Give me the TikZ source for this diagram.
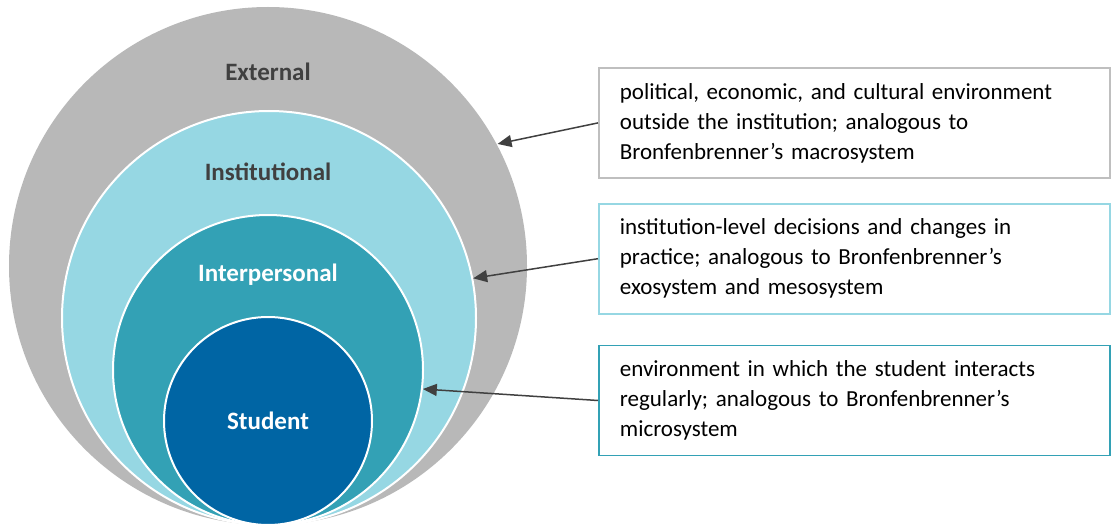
\documentclass[tikz,border=0pt]{standalone}
\usepackage{fontspec}
\setmainfont{Carlito}
\usetikzlibrary{arrows.meta, positioning}

\definecolor{extgray}{HTML}{B8B8B8}
\definecolor{instblue}{HTML}{96D7E3}
\definecolor{interteal}{HTML}{33A1B5}
\definecolor{studblue}{HTML}{0065A4}
\definecolor{labelgray}{HTML}{404040}
\definecolor{boxgray}{HTML}{BFBFBF}

\tikzstyle{ring} = [circle, inner sep=0pt, draw=white, line width=2pt]
\tikzstyle{level} = [font=\fontsize{25}{29}\selectfont\bfseries]
\tikzstyle{note} = [draw, rectangle, line width=1.8pt, fill=white, minimum width=511pt, minimum height=110pt, inner xsep=21pt, text width=469pt, align=left, font=\fontsize{23}{30}\selectfont]

\begin{document}
\begin{tikzpicture}[x=1pt, y=-1pt, >={Triangle[length=14pt,width=12pt]}]
    \useasboundingbox (0,0) rectangle (1112,524);
    % nested levels, all touching at the bottom
    \node[ring, draw=none, fill=extgray, minimum size=518pt] (ext) at (268,266) {};
    \node[ring, fill=instblue, minimum size=414pt] (inst) at (269,318) {};
    \node[ring, fill=interteal, minimum size=310pt] (inter) at (268,370) {};
    \node[ring, fill=studblue, minimum size=208pt] (stud) at (268,421) {};
    \node[level, labelgray] (extlab) at (268,72) {External};
    \node[level, labelgray] (instlab) at (268,172) {Institutional};
    \node[level, white] (interlab) at (268,275) {Interpersonal};
    \node[level, white] (studlab) at (268,421) {Student};
    % descriptions
    \node[note, draw=boxgray, anchor=north west] (macro) at (598,67) {political, economic, and cultural environment\\outside the institution; analogous to\\Bronfenbrenner’s macrosystem};
    \node[note, draw=instblue, below=24pt of macro] (exo) {institution-level decisions and changes in\\practice; analogous to Bronfenbrenner’s\\exosystem and mesosystem};
    \node[note, draw=interteal, below=30pt of exo] (micro) {environment in which the student interacts\\regularly; analogous to Bronfenbrenner’s\\microsystem};
    \draw[->, labelgray, line width=1.5pt] (macro.west) -- (ext.28);
    \draw[->, labelgray, line width=1.5pt] (exo.west) -- (inst.11);
    \draw[->, labelgray, line width=1.5pt] (micro.west) -- (inter.-7);
\end{tikzpicture}
\end{document}
